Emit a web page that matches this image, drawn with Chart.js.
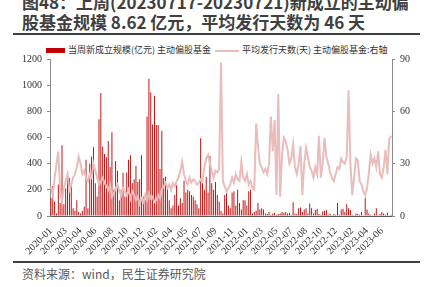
<!DOCTYPE html>
<html>
<head>
<meta charset="utf-8">
<script src="https://cdn.jsdelivr.net/npm/chart.js@4.4.1/dist/chart.umd.min.js"></script>
<style>
    body { margin: 0; width: 429px; height: 287px; overflow: hidden; background: #fff; position: relative; font-family: "Noto Sans CJK SC", sans-serif; }
    .title { position: absolute; left: 22px; top: -8px; font-size: 17px; font-weight: bold; line-height: 19.5px; color: #404040; white-space: nowrap; }
    .rule { position: absolute; left: 13px; width: 407px; height: 2px; background: #404040; }
    .legend { position: absolute; top: 44px; font-size: 9px; line-height: 11px; color: #333; white-space: nowrap; }
    .swatch { position: absolute; }
    .source { position: absolute; left: 22px; top: 266px; font-size: 12px; line-height: 16px; color: #595959; white-space: nowrap; }
    #chart { position: absolute; left: 0; top: 40px; }
</style>
</head>
<body>
<div class="title">图48：上周(20230717-20230721)新成立的主动偏<br>股基金规模 8.62 亿元，平均发行天数为 46 天</div>
<div class="rule" style="top:33px"></div>
<div class="swatch" style="left:46px;top:48px;width:19px;height:5px;background:#c00000"></div>
<div class="legend" style="left:68px">当周新成立规模(亿元) 主动偏股基金</div>
<div class="swatch" style="left:215px;top:50px;width:24px;height:2px;background:#ebbcbc"></div>
<div class="legend" style="left:242px">平均发行天数(天) 主动偏股基金:右轴</div>
<canvas id="chart" width="429" height="220"></canvas>
<div class="rule" style="top:261px"></div>
<div class="source">资料来源：wind，民生证券研究院</div>

<script>
// weekly data, 2020-01 .. 2023-07
const tickLabels = ['2020-01', '2020-03', '2020-04', '2020-06', '2020-08', '2020-10', '2020-12',
    '2021-02', '2021-04', '2021-05', '2021-07', '2021-09', '2021-11', '2022-01', '2022-03',
    '2022-05', '2022-07', '2022-08', '2022-10', '2022-12', '2023-02', '2023-04', '2023-06'];
const tickStep = 8.13;

// 当周新成立规模(亿元)
const newScale = [
    140, 230, 110, 20, 240, 100, 540, 90, 210, 330,
    290, 250, 60, 40, 120, 30, 20, 40, 70, 430,
    60, 400, 455, 525, 250, 150, 740, 940, 530, 474,
    450, 573, 375, 640, 200, 420, 345, 120, 200, 330,
    150, 330, 430, 465, 250, 280, 385, 260, 280, 465,
    150, 120, 760, 1050, 945, 700, 920, 695, 695, 360,
    650, 290, 300, 235, 120, 60, 80, 160, 235, 80,
    135, 100, 270, 180, 200, 190, 160, 150, 120, 90,
    60, 595, 250, 200, 300, 180, 460, 250, 200, 260,
    160, 110, 40, 20, 160, 200, 80, 60, 180, 190,
    80, 200, 100, 50, 120, 120, 80, 190, 200, 20,
    30, 40, 100, 50, 60, 50, 20, 15, 30, 10,
    20, 25, 10, 15, 20, 30, 25, 30, 20, 25,
    10, 105, 20, 15, 60, 65, 30, 50, 60, 20,
    95, 60, 20, 45, 55, 15, 10, 35, 40, 45,
    10, 20, 5, 15, 10, 100, 10, 50, 55, 30,
    90, 60, 45, 10, 5, 20, 15, 10, 30, 5,
    140, 50, 20, 10, 5, 20, 60, 5, 15, 30,
    20, 10, 25, 5, 8.62
];

// 平均发行天数(天)
const avgDays = [
    17, 12, 22, 30, 37, 14, 8, 16, 20, 24,
    15, 18, 22, 24, 28, 34, 30, 24, 26, 22,
    20, 24, 22, 30, 26, 22, 18, 20, 22, 19,
    17, 15, 18, 11, 13, 16, 18, 14, 12, 16,
    14, 12, 15, 10, 14, 12, 9, 11, 7, 10,
    8, 12, 9, 13, 10, 11, 8, 9, 12, 10,
    15, 17, 19, 16, 18, 15, 19, 17, 20, 22,
    26, 31, 24, 20, 18, 22, 19, 21, 20, 18,
    19, 21, 20, 28, 33, 35, 30, 26, 22, 26,
    25, 27, 88, 20, 17, 14, 16, 18, 22, 19,
    24, 21, 20, 31, 22, 20, 24, 18, 20, 16,
    15, 53, 40, 30, 28, 25, 27, 24, 30, 57,
    37, 55, 12, 70, 11, 35, 45, 43, 38, 30,
    33, 41, 28, 24, 30, 40, 12, 30, 39, 34,
    28, 26, 22, 28, 24, 46, 22, 30, 45, 34,
    30, 25, 22, 20, 24, 28, 27, 33, 31, 30,
    34, 72, 30, 12, 22, 33, 32, 20, 18, 14,
    12, 16, 25, 35, 30, 33, 28, 37, 24, 22,
    28, 38, 24, 44, 46
];

// category labels: a tick label roughly every 8 weeks, blanks in between
const weeks = newScale.map(() => '');
tickLabels.forEach((lab, k) => { weeks[Math.round(k * tickStep)] = lab; });

const tickFont = { family: 'Liberation Serif', size: 10 };

new Chart(document.getElementById('chart'), {
    type: 'bar',
    data: {
        labels: weeks,
        datasets: [
            {
                type: 'line',
                label: '平均发行天数(天) 主动偏股基金:右轴',
                data: avgDays,
                yAxisID: 'yR',
                borderColor: '#ebbcbc',
                borderWidth: 2,
                pointRadius: 0,
                tension: 0,
                order: 0
            },
            {
                label: '当周新成立规模(亿元) 主动偏股基金',
                data: newScale,
                yAxisID: 'yL',
                backgroundColor: '#c00000',
                barPercentage: 0.5,
                categoryPercentage: 1,
                order: 1
            }
        ]
    },
    options: {
        responsive: false,
        animation: false,
        layout: { padding: { top: 19, left: 0, right: 0, bottom: 0 } },
        plugins: { legend: { display: false }, tooltip: { enabled: false } },
        scales: {
            x: {
                offset: true,
                grid: { display: false, tickLength: 4 },
                border: { color: '#595959' },
                ticks: { autoSkip: false, minRotation: 45, maxRotation: 45, padding: 5, font: tickFont, color: '#333' },
                afterFit: (s) => { s.height = 44; }
            },
            yL: {
                position: 'left',
                min: 0, max: 1200,
                grid: { drawOnChartArea: false, tickLength: 3, color: '#8c8c8c' },
                border: { color: '#8c8c8c' },
                ticks: { stepSize: 200, padding: 5, font: tickFont, color: '#333', callback: (v) => String(v) },
                afterFit: (s) => { s.width = 50; }
            },
            yR: {
                position: 'right',
                min: 0, max: 90,
                grid: { drawOnChartArea: false, tickLength: 3, color: '#8c8c8c' },
                border: { color: '#8c8c8c' },
                ticks: { stepSize: 30, padding: 5, font: tickFont, color: '#333' },
                afterFit: (s) => { s.width = 37; }
            }
        }
    }
});
</script>
</body>
</html>
